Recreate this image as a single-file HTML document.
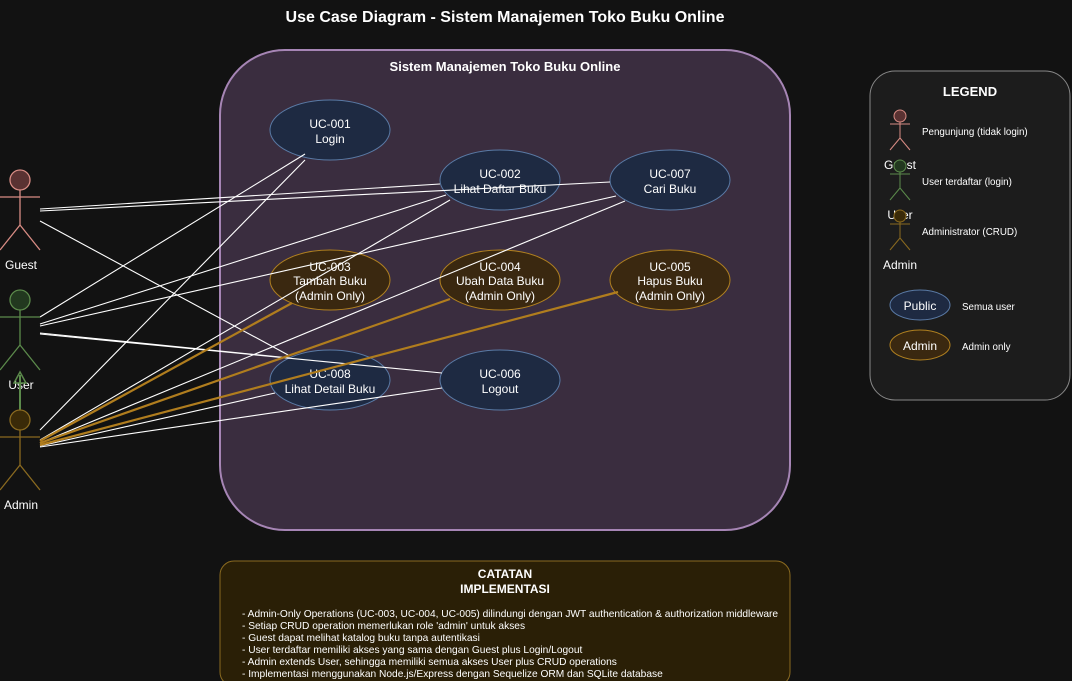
<!DOCTYPE html>
<html><head><meta charset="utf-8"><style>
body{margin:0;background:#121212;}
svg{display:block;font-family:"Liberation Sans",Arial,sans-serif;}
</style></head><body>
<svg width="1072" height="681" viewBox="0 0 1072 681">
<rect width="1072" height="681" fill="#121212"/>
<text x="505" y="22" fill="#fff" font-size="16" font-weight="bold" text-anchor="middle">Use Case Diagram - Sistem Manajemen Toko Buku Online</text>

<g>
<rect x="220" y="50" width="570" height="480" rx="65" fill="#3a2d3f" stroke="#a685b5" stroke-width="2"/>
<text x="505" y="71" fill="#fff" font-size="13" font-weight="bold" text-anchor="middle">Sistem Manajemen Toko Buku Online</text>
</g>

<g font-size="12" fill="#fff" text-anchor="middle">
<g><ellipse cx="330" cy="130" rx="60" ry="30" fill="#1e2a42" stroke="#5a7aa5"/><text x="330" y="128">UC-001</text><text x="330" y="143">Login</text></g>
<g><ellipse cx="500" cy="180" rx="60" ry="30" fill="#1e2a42" stroke="#5a7aa5"/><text x="500" y="178">UC-002</text><text x="500" y="193">Lihat Daftar Buku</text></g>
<g><ellipse cx="670" cy="180" rx="60" ry="30" fill="#1e2a42" stroke="#5a7aa5"/><text x="670" y="178">UC-007</text><text x="670" y="193">Cari Buku</text></g>
<g><ellipse cx="330" cy="280" rx="60" ry="30" fill="#3a2810" stroke="#b08020"/><text x="330" y="271">UC-003</text><text x="330" y="285">Tambah Buku</text><text x="330" y="300">(Admin Only)</text></g>
<g><ellipse cx="500" cy="280" rx="60" ry="30" fill="#3a2810" stroke="#b08020"/><text x="500" y="271">UC-004</text><text x="500" y="285">Ubah Data Buku</text><text x="500" y="300">(Admin Only)</text></g>
<g><ellipse cx="670" cy="280" rx="60" ry="30" fill="#3a2810" stroke="#b08020"/><text x="670" y="271">UC-005</text><text x="670" y="285">Hapus Buku</text><text x="670" y="300">(Admin Only)</text></g>
<g><ellipse cx="330" cy="380" rx="60" ry="30" fill="#1e2a42" stroke="#5a7aa5"/><text x="330" y="378">UC-008</text><text x="330" y="393">Lihat Detail Buku</text></g>
<g><ellipse cx="500" cy="380" rx="60" ry="30" fill="#1e2a42" stroke="#5a7aa5"/><text x="500" y="378">UC-006</text><text x="500" y="393">Logout</text></g>
</g>

<g stroke="#ffffff" stroke-width="1.1" fill="none">
<line x1="40" y1="209" x2="440" y2="184"/>
<line x1="40" y1="211" x2="610" y2="182"/>
<line x1="40" y1="221" x2="290" y2="356"/>
<line x1="40" y1="317" x2="305" y2="154"/>
<line x1="40" y1="324" x2="446" y2="195"/>
<line x1="40" y1="326" x2="616" y2="196"/>
<line x1="40" y1="333" x2="290" y2="358"/>
<line x1="40" y1="334" x2="442" y2="373"/>
<line x1="40" y1="430" x2="305" y2="160"/>
<line x1="40" y1="440" x2="450" y2="200"/>
<line x1="40" y1="443" x2="625" y2="201"/>
<line x1="40" y1="446" x2="275" y2="393"/>
<line x1="40" y1="447" x2="442" y2="388"/>
</g>
<g stroke="#b07d1e" stroke-width="2.2" fill="none">
<line x1="40" y1="441" x2="292" y2="303"/>
<line x1="40" y1="443" x2="450" y2="299"/>
<line x1="40" y1="445" x2="618" y2="292"/>
</g>

<g stroke="#d88c84" stroke-width="1.3">
<circle cx="20" cy="180" r="10" fill="#5a3232"/>
<line x1="20" y1="190" x2="20" y2="225"/><line x1="0" y1="197" x2="40" y2="197"/>
<line x1="20" y1="225" x2="0" y2="250"/><line x1="20" y1="225" x2="40" y2="250"/>
<text x="21" y="269" fill="#fff" stroke="none" font-size="12" text-anchor="middle">Guest</text>
</g>
<g stroke="#5b8a4b" stroke-width="1.3">
<circle cx="20" cy="300" r="10" fill="#22381f"/>
<line x1="20" y1="310" x2="20" y2="345"/><line x1="0" y1="317" x2="40" y2="317"/>
<line x1="20" y1="345" x2="0" y2="370"/><line x1="20" y1="345" x2="40" y2="370"/>
<text x="21" y="389" fill="#fff" stroke="none" font-size="12" text-anchor="middle">User</text>
</g>
<g>
<line x1="20" y1="410" x2="20" y2="375" stroke="#5b8a4b" stroke-width="2"/>
<polygon points="20,372 14,383 26,383" fill="none" stroke="#5b8a4b" stroke-width="1.5"/>
</g>
<g stroke="#8a6a20" stroke-width="1.3">
<circle cx="20" cy="420" r="10" fill="#3a2a08"/>
<line x1="20" y1="430" x2="20" y2="465"/><line x1="0" y1="437" x2="40" y2="437"/>
<line x1="20" y1="465" x2="0" y2="490"/><line x1="20" y1="465" x2="40" y2="490"/>
<text x="21" y="509" fill="#fff" stroke="none" font-size="12" text-anchor="middle">Admin</text>
</g>

<g>
<rect x="870" y="71" width="200" height="329" rx="25" fill="#1c1c1c" stroke="#888" stroke-width="1"/>
<text x="970" y="96" fill="#fff" font-size="13" font-weight="bold" text-anchor="middle">LEGEND</text>
<g stroke="#d88c84" stroke-width="1"><circle cx="900" cy="116" r="6" fill="#5a3232"/><line x1="900" y1="122" x2="900" y2="138"/><line x1="890" y1="124" x2="910" y2="124"/><line x1="900" y1="138" x2="890" y2="150"/><line x1="900" y1="138" x2="910" y2="150"/></g>
<text x="900" y="169" fill="#fff" font-size="12" text-anchor="middle">Guest</text>
<text x="922" y="135" fill="#fff" font-size="9.8">Pengunjung (tidak login)</text>
<g stroke="#5b8a4b" stroke-width="1"><circle cx="900" cy="166" r="6" fill="#22381f"/><line x1="900" y1="172" x2="900" y2="188"/><line x1="890" y1="174" x2="910" y2="174"/><line x1="900" y1="188" x2="890" y2="200"/><line x1="900" y1="188" x2="910" y2="200"/></g>
<text x="900" y="219" fill="#fff" font-size="12" text-anchor="middle">User</text>
<text x="922" y="185" fill="#fff" font-size="9.8">User terdaftar (login)</text>
<g stroke="#8a6a20" stroke-width="1"><circle cx="900" cy="216" r="6" fill="#3a2a08"/><line x1="900" y1="222" x2="900" y2="238"/><line x1="890" y1="224" x2="910" y2="224"/><line x1="900" y1="238" x2="890" y2="250"/><line x1="900" y1="238" x2="910" y2="250"/></g>
<text x="900" y="269" fill="#fff" font-size="12" text-anchor="middle">Admin</text>
<text x="922" y="235" fill="#fff" font-size="9.8">Administrator (CRUD)</text>
<ellipse cx="920" cy="305" rx="30" ry="15" fill="#1e2a42" stroke="#5a7aa5"/><text x="920" y="310" fill="#fff" font-size="12" text-anchor="middle">Public</text>
<text x="962" y="310" fill="#fff" font-size="9.8">Semua user</text>
<ellipse cx="920" cy="345" rx="30" ry="15" fill="#3a2810" stroke="#b08020"/><text x="920" y="350" fill="#fff" font-size="12" text-anchor="middle">Admin</text>
<text x="962" y="350" fill="#fff" font-size="9.8">Admin only</text>
</g>

<g>
<rect x="220" y="561" width="570" height="125" rx="14" fill="#2a1f06" stroke="#8a6a20"/>
<text x="505" y="578" fill="#fff" font-size="12" font-weight="bold" text-anchor="middle">CATATAN</text>
<text x="505" y="593" fill="#fff" font-size="12" font-weight="bold" text-anchor="middle">IMPLEMENTASI</text>
<g fill="#fff" font-size="10.2">
<text x="242" y="617">- Admin-Only Operations (UC-003, UC-004, UC-005) dilindungi dengan JWT authentication &amp; authorization middleware</text>
<text x="242" y="629">- Setiap CRUD operation memerlukan role 'admin' untuk akses</text>
<text x="242" y="641">- Guest dapat melihat katalog buku tanpa autentikasi</text>
<text x="242" y="653">- User terdaftar memiliki akses yang sama dengan Guest plus Login/Logout</text>
<text x="242" y="665">- Admin extends User, sehingga memiliki semua akses User plus CRUD operations</text>
<text x="242" y="677">- Implementasi menggunakan Node.js/Express dengan Sequelize ORM dan SQLite database</text>
</g>
</g>
</svg>
</body></html>
